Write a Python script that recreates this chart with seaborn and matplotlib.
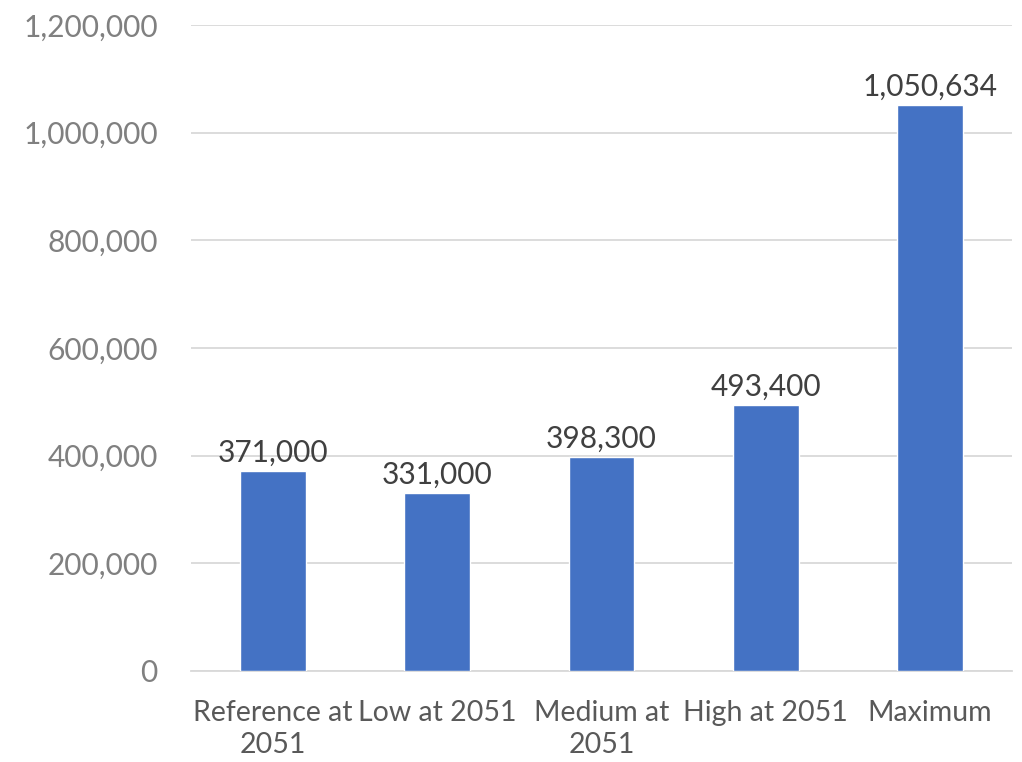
import matplotlib
matplotlib.use("Agg")
import matplotlib.pyplot as plt
import seaborn as sns
import pandas as pd
from matplotlib.ticker import FuncFormatter, MultipleLocator

categories = ["Reference at\n2051", "Low at 2051", "Medium at\n2051", "High at 2051", "Maximum"]
values = [371000, 331000, 398300, 493400, 1050634]

sns.set_theme(style="white")
plt.rcParams["font.family"] = ["Lato", "DejaVu Sans"]

df = pd.DataFrame({"scenario": categories, "value": values})

fig = plt.figure(figsize=(10.22, 7.62), dpi=100)
ax = fig.add_axes([191 / 1022, 91 / 762, (1012 - 191) / 1022, (671 - 25) / 762])

sns.barplot(data=df, x="scenario", y="value", color="#4472C4", width=0.4,
            saturation=1, ax=ax, zorder=3)

ax.set_ylim(0, 1200000)
ax.yaxis.set_major_locator(MultipleLocator(200000))
ax.yaxis.set_major_formatter(FuncFormatter(lambda v, p: f"{int(v):,}"))
ax.grid(axis="y", color="#d9d9d9", linewidth=1.3, zorder=0)
ax.set_axisbelow(True)
for side in ["top", "right", "left"]:
    ax.spines[side].set_visible(False)
ax.spines["bottom"].set_color("#d9d9d9")
ax.spines["bottom"].set_linewidth(1.3)

ax.set_xlabel("")
ax.set_ylabel("")
ax.tick_params(axis="y", labelsize=21.5, colors="#808080", length=0, pad=24)
ax.tick_params(axis="x", labelsize=20.5, colors="#595959", length=0, pad=21)
for lbl in ax.get_xticklabels():
    lbl.set_linespacing(1.3)

for i, v in enumerate(values):
    ax.annotate(f"{v:,}", (i, v), xytext=(0, 3), textcoords="offset points",
                ha="center", va="bottom", fontsize=21.5, color="#404040")

fig.savefig("out.png", dpi=100)
